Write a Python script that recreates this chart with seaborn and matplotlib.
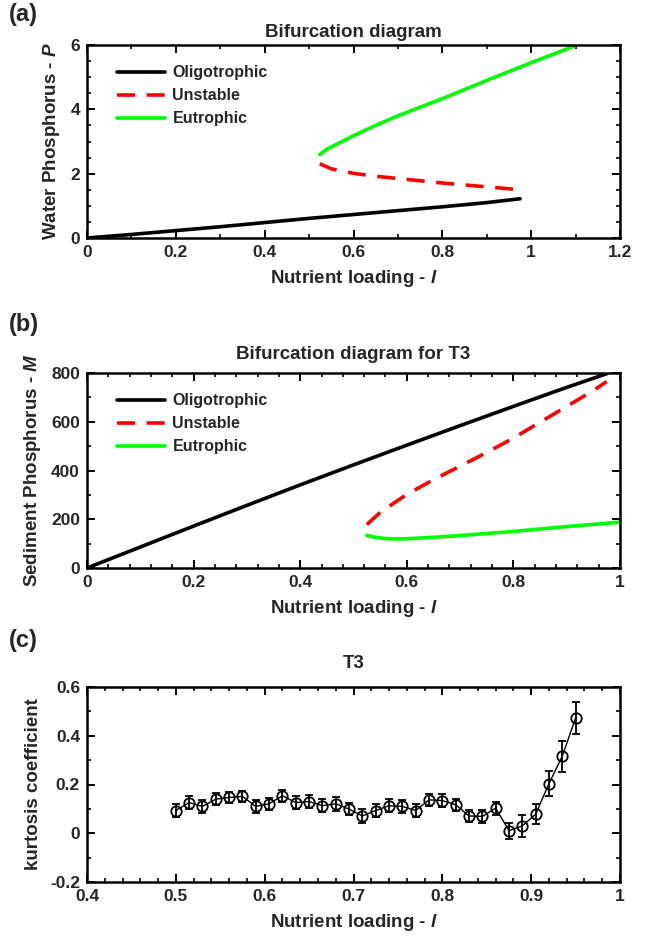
import numpy as np
import pandas as pd
import matplotlib
matplotlib.use("Agg")
import matplotlib.pyplot as plt
from matplotlib.ticker import MultipleLocator, FuncFormatter
import seaborn as sns

# ---------------- data ----------------
# Panel (a): water phosphorus P vs nutrient loading l
a_oligo_l = [0, 0.1, 0.2, 0.3, 0.4, 0.5, 0.6, 0.7, 0.8, 0.9, 0.975]
a_oligo_P = [0, 0.11, 0.23, 0.35, 0.48, 0.61, 0.73, 0.85, 0.97, 1.10, 1.22]
a_unst_l = [0.524, 0.55, 0.6, 0.65, 0.7, 0.75, 0.8, 0.85, 0.9, 0.95, 0.965]
a_unst_P = [2.31, 2.15, 2.01, 1.92, 1.85, 1.78, 1.71, 1.65, 1.59, 1.53, 1.51]
a_eutr_l = [0.524, 0.54, 0.56, 0.6, 0.65, 0.7, 0.8, 0.9, 1.0, 1.1]
a_eutr_P = [2.59, 2.76, 2.90, 3.18, 3.50, 3.80, 4.33, 4.90, 5.45, 5.98]

# Panel (b): sediment phosphorus M vs nutrient loading l
b_oligo_l = [0, 0.1, 0.2, 0.3, 0.4, 0.5, 0.6, 0.7, 0.8, 0.9, 0.975]
b_oligo_M = [0, 86, 172, 257, 341, 423, 504, 584, 663, 741, 797]
b_unst_l = [0.525, 0.55, 0.6, 0.65, 0.7, 0.75, 0.8, 0.85, 0.9, 0.95, 0.975]
b_unst_M = [178, 228, 302, 362, 418, 474, 533, 598, 663, 728, 765]
b_eutr_l = [0.525, 0.54, 0.56, 0.58, 0.6, 0.65, 0.7, 0.8, 0.9, 1.0]
b_eutr_M = [134, 126, 121, 119, 120, 126, 133, 150, 170, 188]

# Panel (c): kurtosis coefficient
c_l = [0.500, 0.515, 0.530, 0.545, 0.560, 0.575, 0.590, 0.605, 0.620, 0.635,
       0.650, 0.665, 0.680, 0.695, 0.710, 0.725, 0.740, 0.755, 0.770, 0.785,
       0.800, 0.815, 0.830, 0.845, 0.860, 0.875, 0.890, 0.905, 0.920, 0.935,
       0.950]
c_k = [0.093, 0.126, 0.110, 0.140, 0.147, 0.151, 0.110, 0.121, 0.154, 0.126,
       0.130, 0.113, 0.121, 0.099, 0.071, 0.093, 0.113, 0.110, 0.093, 0.137,
       0.134, 0.117, 0.071, 0.069, 0.103, 0.011, 0.030, 0.078, 0.203, 0.316,
       0.473]
c_err = [0.025, 0.027, 0.025, 0.025, 0.022, 0.024, 0.027, 0.025, 0.024, 0.026,
         0.025, 0.026, 0.028, 0.026, 0.028, 0.027, 0.027, 0.025, 0.025, 0.024,
         0.026, 0.025, 0.025, 0.027, 0.027, 0.033, 0.045, 0.042, 0.052, 0.064,
         0.064]

labels = ["Oligotrophic", "Unstable", "Eutrophic"]

# ---------------- style ----------------
sns.set_style("ticks")
plt.rcParams["font.family"] = ["Liberation Sans", "DejaVu Sans"]
plt.rcParams["font.weight"] = "bold"
plt.rcParams["mathtext.fontset"] = "custom"
plt.rcParams["mathtext.it"] = "Liberation Sans:italic:bold"
plt.rcParams["mathtext.rm"] = "Liberation Sans:bold"
plt.rcParams["axes.linewidth"] = 1.6

W, H = 646, 941
fig = plt.figure(figsize=(W / 100, H / 100), dpi=100)

TICK_FS = 12.5
LAB_FS = 13.5
TITLE_FS = 13.5


def make_axes(left, top, right, bottom):
    return fig.add_axes([left / W, 1 - bottom / H, (right - left) / W, (bottom - top) / H])


def style_axes(ax, xmaj, xmin, ymaj, ymin):
    ax.xaxis.set_major_locator(MultipleLocator(xmaj))
    ax.xaxis.set_minor_locator(MultipleLocator(xmin))
    ax.yaxis.set_major_locator(MultipleLocator(ymaj))
    ax.yaxis.set_minor_locator(MultipleLocator(ymin))
    fmt = FuncFormatter(lambda v, p: ("%g" % round(v, 6)) if abs(v) > 1e-9 else "0")
    ax.xaxis.set_major_formatter(fmt)
    ax.yaxis.set_major_formatter(fmt)
    ax.tick_params(which="both", direction="in", top=True, right=True, color="black")
    ax.tick_params(which="major", length=5.5, width=1.4, labelsize=TICK_FS, pad=5)
    ax.tick_params(which="minor", length=3, width=1.2)
    for lab in ax.get_xticklabels() + ax.get_yticklabels():
        lab.set_fontweight("bold")
    for s in ax.spines.values():
        s.set_visible(True)
        s.set_linewidth(1.8)
        s.set_color("black")


def draw_curves(ax, xs, ys):
    colors = ["black", "#ff0000", "#00ff00"]
    dashes = [None, (5, 3.2), None]
    for x, y, c, d, lab in zip(xs, ys, colors, dashes, labels):
        df = pd.DataFrame({"x": x, "y": y})
        sns.lineplot(data=df, x="x", y="y", ax=ax, color=c, linewidth=2.6,
                     estimator=None, sort=False, label=lab)
        if d is not None:
            ax.lines[-1].set_dashes(d)
    ax.legend(frameon=False, loc="upper left", bbox_to_anchor=(0.03, 0.97),
              handlelength=3.0, handletextpad=0.45, labelspacing=0.5,
              prop={"weight": "bold", "size": 11.5})


# ---------------- panel (a) ----------------
axA = make_axes(87, 45, 620, 238)
draw_curves(axA, [a_oligo_l, a_unst_l, a_eutr_l], [a_oligo_P, a_unst_P, a_eutr_P])
axA.set_xlim(0, 1.2)
axA.set_ylim(0, 6)
style_axes(axA, 0.2, 0.1, 2, 0.5)
axA.set_title("Bifurcation diagram", fontsize=TITLE_FS, fontweight="bold", pad=6)
axA.set_xlabel(r"Nutrient loading - $l$", fontsize=LAB_FS, fontweight="bold", labelpad=6)
axA.set_ylabel(r"Water Phosphorus - $P$", fontsize=LAB_FS, fontweight="bold", labelpad=6)

# ---------------- panel (b) ----------------
axB = make_axes(87, 373, 620, 568)
draw_curves(axB, [b_oligo_l, b_unst_l, b_eutr_l], [b_oligo_M, b_unst_M, b_eutr_M])
axB.set_xlim(0, 1)
axB.set_ylim(0, 800)
style_axes(axB, 0.2, 0.04, 200, 100)
axB.set_title("Bifurcation diagram for T3", fontsize=TITLE_FS, fontweight="bold", pad=10)
axB.set_xlabel(r"Nutrient loading - $l$", fontsize=LAB_FS, fontweight="bold", labelpad=6)
axB.set_ylabel(r"Sediment Phosphorus - $M$", fontsize=LAB_FS, fontweight="bold", labelpad=6)

# ---------------- panel (c) ----------------
axC = make_axes(87, 687, 620, 882)
dfc = pd.DataFrame({"l": c_l, "k": c_k})
sns.lineplot(data=dfc, x="l", y="k", ax=axC, color="black", linewidth=1.0,
             estimator=None, sort=False)
axC.errorbar(c_l, c_k, yerr=c_err, fmt="none", ecolor="black", elinewidth=1.3,
             capsize=3.2, capthick=1.3, zorder=3)
axC.plot(c_l, c_k, linestyle="none", marker="o", markersize=7.5, markerfacecolor="none",
         markeredgecolor="black", markeredgewidth=1.3, zorder=4)
axC.set_xlim(0.4, 1)
axC.set_ylim(-0.2, 0.6)
style_axes(axC, 0.1, 0.02, 0.2, 0.1)
axC.set_title("T3", fontsize=TITLE_FS, fontweight="bold", pad=14)
axC.set_xlabel(r"Nutrient loading - $l$", fontsize=LAB_FS, fontweight="bold", labelpad=6)
axC.set_ylabel("kurtosis coefficient", fontsize=LAB_FS, fontweight="bold", labelpad=6)

# panel letters
for txt, y in [("(a)", 14), ("(b)", 325), ("(c)", 641)]:
    fig.text(9 / W, 1 - y / H, txt, fontsize=17, fontweight="bold", va="center", ha="left")

fig.savefig("out.png", dpi=100)
